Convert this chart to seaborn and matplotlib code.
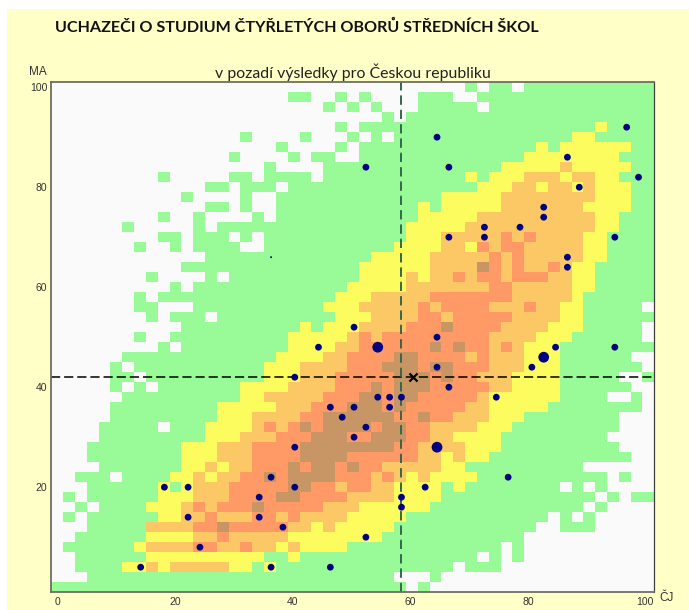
import pandas as pd
import seaborn as sns
import matplotlib.pyplot as plt
from matplotlib.colors import ListedColormap
from matplotlib.patches import Rectangle
from matplotlib.transforms import ScaledTranslation

# hustota uchazecu, radky shora (MA 100) dolu (MA 0), sloupce CJ 0..100 po 2
rows = [
    "0000000000 0000000000 0000000000 0000010110 1111111111 1",
    "0000000000 0000000000 1100101000 0111001111 1111111111 1",
    "0000000000 0000000000 0001010100 0111110111 1111111111 1",
    "0000000000 0000000000 0000000010 1111111111 1111111111 1",
    "0000000000 0000000000 0000101111 1111111111 1111112111 1",
    "0000000000 0000001000 0100010101 1111111111 1111221111 1",
    "0000000000 0000000001 0000101111 1111111111 1212222221 1",
    "0000000000 0000010000 1011001111 1111111111 2222222211 1",
    "0000000000 0000000010 0001111111 1111111122 2223222221 1",
    "0000000001 0000011011 1101111111 1111121222 3332332211 1",
    "0000000000 0001101110 1111111111 1111112223 3233232221 1",
    "0000000000 0100001001 1111111111 1112222233 3333332221 1",
    "0000000000 0001101001 1111111111 1212222233 3333322221 1",
    "0000000001 0010000101 1111111111 1222223333 3333332211 1",
    "0000001000 0010111111 1111111111 2222233333 3333332211 1",
    "0000000001 1011101011 1111111111 2223333343 4333322111 1",
    "0000000100 1011110011 1111111112 2223324344 3333322111 1",
    "0000000000 0001111111 1111111222 2233333434 3333322111 1",
    "0000000000 0111111111 1111112222 2233335434 3343221111 1",
    "0000000010 0001011111 1111112222 3233434434 4433221111 1",
    "0000000000 1011111111 1111122222 3333333443 3333221111 1",
    "0000000101 1111111111 1111222333 3344444443 3333211111 1",
    "0000000110 0011111111 1112223333 3434444333 4332211111 0",
    "0000000010 1110111111 1111222333 3443444443 3332211111 1",
    "0000000000 0111111111 1212223333 4445444433 3322211111 0",
    "0000000100 1111111111 2222234344 4444444333 3222111111 0",
    "0000000001 0111111111 2222334444 4454544343 2221111111 1",
    "0000001111 1111111112 2223344445 5444434333 2221111110 0",
    "0000010111 1111111122 2333344455 5455444333 2221111111 0",
    "0000011011 1111111122 2333444445 5545443332 2221111100 1",
    "0000010101 1111112222 3333444545 5544444332 2221111110 0",
    "0000001111 1111112233 3334445545 5444443222 2221111001 0",
    "0000011111 1111222223 3344455545 4444433222 2211111111 0",
    "0000011111 1111222333 3445555554 4544333222 1111111100 0",
    "0000111110 1112222343 4545555455 4433332221 1111111100 0",
    "0000111111 1112223334 4455544555 4433222211 1111111000 0",
    "0001111111 1222333444 4555555554 4333322211 1111111100 0",
    "0001111111 1222333444 4555544444 4332322111 1111111110 0",
    "0000111111 1223233444 5455454433 3332211111 1111100000 0",
    "0011101111 2232334454 5555444343 2322221111 1111111010 0",
    "0001111112 1233344444 5544344332 2221211111 1110101000 0",
    "0101111112 2233344445 5444433332 2221111111 1111110101 1",
    "0010111122 2343444544 4443332222 2211111111 1111101000 0",
    "0101111112 2334333443 4333322222 1111111111 1101010000 0",
    "0001111133 3344544444 3323222221 1111111111 1001110000 0",
    "0011111122 2233433333 2222222211 1111111111 0000000000 0",
    "0111111233 3344334332 3222211111 1111111101 0000000000 0",
    "0011111122 2222222211 2111111111 1111110101 0000000000 0",
    "0011112232 3333322121 1111111111 1111011100 0000000000 0",
    "0001111111 1111111111 1111111110 0010000000 0000000000 0",
    "1111111111 1111111111 1111111111 0100000000 0000000000 0",
]
level_colors = ['#FAFAFA', '#98FB98', '#FCFC5E', '#FCC865', '#FF9966', '#C89664']

# skoly
point_x = [36, 50, 96, 64, 52, 66, 86, 98, 88, 82, 82, 72, 78, 72, 66, 94, 86, 86,
           64, 54, 44, 40, 46, 50, 48, 50, 40, 36, 18, 22, 40, 34, 22, 34, 38, 24,
           14, 36, 46, 94, 84, 82, 80, 64, 66, 54, 56, 58, 74, 56, 52, 64, 76, 62,
           58, 58, 52]
point_y = [66, 52, 92, 90, 84, 84, 86, 82, 80, 76, 74, 72, 72, 70, 70, 70, 66, 64,
           50, 48, 48, 42, 36, 36, 34, 30, 28, 22, 20, 20, 20, 18, 14, 14, 12, 8,
           4, 4, 4, 48, 48, 46, 44, 44, 40, 38, 38, 38, 38, 36, 32, 28, 22, 20,
           18, 16, 10]
point_n = [0, 1, 1, 1, 1, 1, 1, 1, 1, 1, 1, 1, 1, 1, 1, 1, 1, 1,
           1, 2, 1, 1, 1, 1, 1, 1, 1, 1, 1, 1, 1, 1, 1, 1, 1, 1,
           1, 1, 1, 1, 1, 2, 1, 1, 1, 1, 1, 1, 1, 1, 1, 2, 1, 1,
           1, 1, 1]
mean_cj = 58
mean_ma = 42
kraj_cj = [60]
kraj_ma = [42]
x_ticks = [0, 20, 40, 60, 80, 100]
y_ticks = [20, 40, 60, 80, 100]

grid = pd.DataFrame([[int(c) for c in r.replace(' ', '')] for r in rows])

fig = plt.figure(figsize=(6.89, 6.10), dpi=100, facecolor='white')
fig.add_artist(Rectangle((7 / 689, 0), 682 / 689, 601 / 610, transform=fig.transFigure,
                         facecolor='#FFFFC8', edgecolor='none', zorder=-5))
pos = [51.3 / 689, 18.3 / 610, 603 / 689, 510 / 610]

ax0 = fig.add_axes(pos)
sns.heatmap(grid, cmap=ListedColormap(level_colors), vmin=0, vmax=5, cbar=False,
            xticklabels=False, yticklabels=False, ax=ax0)

ax = fig.add_axes(pos, facecolor='none')
ax.axvline(mean_cj, color='#A0522D', lw=1.2, dashes=(5, 3.6), zorder=2)
ax.axvline(mean_cj, color='#1F6B55', lw=1.2, dashes=(5.6, 3), zorder=2.1)
ax.axhline(mean_ma, color='black', lw=1.1, dashes=(6, 2.6), zorder=2)
sns.scatterplot(x=point_x, y=point_y, size=point_n, sizes={0: 2, 1: 24, 2: 60},
                color='#000080', linewidth=0, legend=False, zorder=3, ax=ax)
sns.scatterplot(x=kraj_cj, y=kraj_ma, marker='x', color='black', s=34, linewidth=1.6,
                legend=False, zorder=4, ax=ax)
ax.set_xlim(-1.08, 100.66)
ax.set_ylim(-0.9, 101.1)
ax.set_xticks(x_ticks)
ax.set_yticks(y_ticks)
ax.tick_params(length=0, labelsize=7.5, colors='#333333', pad=3)
ax.tick_params(axis='x', pad=4)
for lab in ax.get_yticklabels():
    lab.set_family('Liberation Sans')
# popisky osy x jsou v originale trochu stlacene
for t, lab in zip(x_ticks, ax.get_xticklabels()):
    lab.set_family('Liberation Sans')
    lab.set_transform(lab.get_transform() + ScaledTranslation(-0.05 * t / 100, 0, fig.dpi_scale_trans))
for s in ['left', 'bottom', 'top']:
    ax.spines[s].set_color('#6E6E60')
    ax.spines[s].set_linewidth(1.3)
ax.spines['right'].set_color('#404040')
ax.spines['right'].set_linewidth(0.9)

fig.text(55 / 689, 1 - 27 / 610, 'UCHAZEČI O STUDIUM ČTYŘLETÝCH OBORŮ STŘEDNÍCH ŠKOL',
         family='Lato', weight='bold', fontsize=11.65, va='center', color='#111111')
fig.text(353 / 689, 1 - 72 / 610, 'v pozadí výsledky pro Českou republiku',
         family='Lato', fontsize=11.45, va='center', ha='center', color='#222222')
fig.text(47 / 689, 1 - 72 / 610, 'MA', family='Liberation Sans', fontsize=8.5, va='center',
         ha='right', color='#333333')
fig.text(666.5 / 689, 1 - 598 / 610, 'ČJ', family='Liberation Sans', fontsize=8.5, va='center',
         ha='center', color='#333333')

fig.savefig('out.png', dpi=100, facecolor=fig.get_facecolor())
